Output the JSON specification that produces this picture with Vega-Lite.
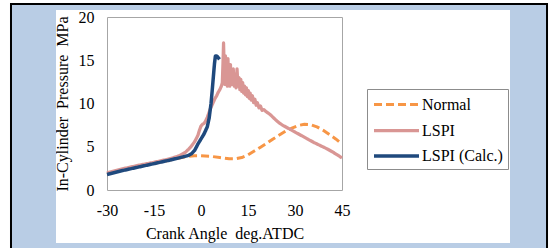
{
  "$schema": "https://vega.github.io/schema/vega-lite/v6.json",
  "width": 235,
  "height": 173,
  "autosize": {"type": "none"},
  "padding": {"left": 107, "top": 17, "right": 214, "bottom": 58},
  "background": "white",
  "config": {
    "view": {"stroke": "#a6a6a6", "strokeWidth": 1},
    "axisX": {"labelFont": "Liberation Serif", "titleFont": "Liberation Serif"},
    "axisY": {"labelFont": "Liberation Serif", "titleFont": "Liberation Serif"},
    "axis": {
      "labelFontSize": 16,
      "labelColor": "#000000",
      "titleFontSize": 16,
      "titleFontWeight": "normal",
      "titleColor": "#000000",
      "gridColor": "#adadad",
      "gridWidth": 1,
      "domain": false,
      "ticks": false
    },
    "legend": {
      "labelFont": "Liberation Serif",
      "labelFontSize": 16,
      "labelColor": "#000000"
    }
  },
  "datasets": {
    "frame": [{"k": "frame"}],
    "curves": [
      {"series": "Normal", "deg": -30, "p": 1.85},
      {"series": "Normal", "deg": -25, "p": 2.3},
      {"series": "Normal", "deg": -20, "p": 2.7},
      {"series": "Normal", "deg": -15, "p": 3.1},
      {"series": "Normal", "deg": -10, "p": 3.45},
      {"series": "Normal", "deg": -5, "p": 3.85},
      {"series": "Normal", "deg": -2, "p": 3.95},
      {"series": "Normal", "deg": 0, "p": 3.95},
      {"series": "Normal", "deg": 3, "p": 3.9},
      {"series": "Normal", "deg": 6, "p": 3.75},
      {"series": "Normal", "deg": 9, "p": 3.6},
      {"series": "Normal", "deg": 11, "p": 3.6},
      {"series": "Normal", "deg": 13, "p": 3.75},
      {"series": "Normal", "deg": 15, "p": 4.05},
      {"series": "Normal", "deg": 17, "p": 4.5},
      {"series": "Normal", "deg": 19, "p": 4.95},
      {"series": "Normal", "deg": 21, "p": 5.4},
      {"series": "Normal", "deg": 23, "p": 5.9},
      {"series": "Normal", "deg": 25, "p": 6.35},
      {"series": "Normal", "deg": 27, "p": 6.8},
      {"series": "Normal", "deg": 29, "p": 7.15},
      {"series": "Normal", "deg": 31, "p": 7.45},
      {"series": "Normal", "deg": 33, "p": 7.6},
      {"series": "Normal", "deg": 35, "p": 7.55},
      {"series": "Normal", "deg": 37, "p": 7.3},
      {"series": "Normal", "deg": 39, "p": 6.9},
      {"series": "Normal", "deg": 41, "p": 6.4},
      {"series": "Normal", "deg": 43, "p": 5.9},
      {"series": "Normal", "deg": 45, "p": 5.3},
      {"series": "LSPI", "deg": -30, "p": 2.0},
      {"series": "LSPI", "deg": -25, "p": 2.45},
      {"series": "LSPI", "deg": -20, "p": 2.85},
      {"series": "LSPI", "deg": -15, "p": 3.2},
      {"series": "LSPI", "deg": -10, "p": 3.6},
      {"series": "LSPI", "deg": -7, "p": 3.95},
      {"series": "LSPI", "deg": -5, "p": 4.35},
      {"series": "LSPI", "deg": -4, "p": 4.7},
      {"series": "LSPI", "deg": -3, "p": 5.1},
      {"series": "LSPI", "deg": -2, "p": 5.6},
      {"series": "LSPI", "deg": -1, "p": 6.3},
      {"series": "LSPI", "deg": -0.5, "p": 6.9},
      {"series": "LSPI", "deg": 0, "p": 7.4},
      {"series": "LSPI", "deg": 0.5, "p": 7.6},
      {"series": "LSPI", "deg": 1, "p": 7.7},
      {"series": "LSPI", "deg": 1.5, "p": 8.0},
      {"series": "LSPI", "deg": 2, "p": 8.4},
      {"series": "LSPI", "deg": 2.5, "p": 8.9},
      {"series": "LSPI", "deg": 3, "p": 9.4},
      {"series": "LSPI", "deg": 3.5, "p": 9.8},
      {"series": "LSPI", "deg": 4, "p": 10.2},
      {"series": "LSPI", "deg": 4.5, "p": 10.6},
      {"series": "LSPI", "deg": 5, "p": 10.9},
      {"series": "LSPI", "deg": 5.5, "p": 11.3},
      {"series": "LSPI", "deg": 6, "p": 11.6},
      {"series": "LSPI", "deg": 6.5, "p": 12.0},
      {"series": "LSPI", "deg": 6.8, "p": 12.4},
      {"series": "LSPI", "deg": 7.0, "p": 14.5},
      {"series": "LSPI", "deg": 7.2, "p": 17.0},
      {"series": "LSPI", "deg": 7.4, "p": 14.0},
      {"series": "LSPI", "deg": 7.6, "p": 12.2},
      {"series": "LSPI", "deg": 7.8, "p": 15.5},
      {"series": "LSPI", "deg": 8.0, "p": 12.5},
      {"series": "LSPI", "deg": 8.2, "p": 14.8},
      {"series": "LSPI", "deg": 8.4, "p": 12.0},
      {"series": "LSPI", "deg": 8.6, "p": 15.2},
      {"series": "LSPI", "deg": 8.8, "p": 12.8},
      {"series": "LSPI", "deg": 9.0, "p": 13.8},
      {"series": "LSPI", "deg": 9.2, "p": 12.0},
      {"series": "LSPI", "deg": 9.4, "p": 14.5},
      {"series": "LSPI", "deg": 9.6, "p": 12.4},
      {"series": "LSPI", "deg": 9.8, "p": 13.6},
      {"series": "LSPI", "deg": 10.0, "p": 12.2},
      {"series": "LSPI", "deg": 10.3, "p": 14.0},
      {"series": "LSPI", "deg": 10.6, "p": 12.0},
      {"series": "LSPI", "deg": 10.9, "p": 13.4},
      {"series": "LSPI", "deg": 11.2, "p": 11.8},
      {"series": "LSPI", "deg": 11.5, "p": 14.0},
      {"series": "LSPI", "deg": 11.8, "p": 12.0},
      {"series": "LSPI", "deg": 12.1, "p": 13.0},
      {"series": "LSPI", "deg": 12.4, "p": 11.6},
      {"series": "LSPI", "deg": 12.7, "p": 12.8},
      {"series": "LSPI", "deg": 13.0, "p": 11.4},
      {"series": "LSPI", "deg": 13.3, "p": 12.4},
      {"series": "LSPI", "deg": 13.6, "p": 11.2},
      {"series": "LSPI", "deg": 13.9, "p": 12.0},
      {"series": "LSPI", "deg": 14.2, "p": 11.0},
      {"series": "LSPI", "deg": 14.5, "p": 11.8},
      {"series": "LSPI", "deg": 14.8, "p": 10.8},
      {"series": "LSPI", "deg": 15.1, "p": 11.5},
      {"series": "LSPI", "deg": 15.4, "p": 10.6},
      {"series": "LSPI", "deg": 15.7, "p": 11.2},
      {"series": "LSPI", "deg": 16.0, "p": 10.4},
      {"series": "LSPI", "deg": 16.4, "p": 10.9},
      {"series": "LSPI", "deg": 16.8, "p": 10.1},
      {"series": "LSPI", "deg": 17.2, "p": 10.5},
      {"series": "LSPI", "deg": 17.6, "p": 9.8},
      {"series": "LSPI", "deg": 18.0, "p": 10.1},
      {"series": "LSPI", "deg": 18.5, "p": 9.5},
      {"series": "LSPI", "deg": 19.0, "p": 9.7},
      {"series": "LSPI", "deg": 19.5, "p": 9.2},
      {"series": "LSPI", "deg": 20.0, "p": 9.3},
      {"series": "LSPI", "deg": 21, "p": 9.0},
      {"series": "LSPI", "deg": 22, "p": 8.75},
      {"series": "LSPI", "deg": 23, "p": 8.4},
      {"series": "LSPI", "deg": 24, "p": 8.05},
      {"series": "LSPI", "deg": 25, "p": 7.75},
      {"series": "LSPI", "deg": 26, "p": 7.5},
      {"series": "LSPI", "deg": 28, "p": 7.1},
      {"series": "LSPI", "deg": 30, "p": 6.7},
      {"series": "LSPI", "deg": 32, "p": 6.3},
      {"series": "LSPI", "deg": 34, "p": 5.9},
      {"series": "LSPI", "deg": 36, "p": 5.5},
      {"series": "LSPI", "deg": 38, "p": 5.15},
      {"series": "LSPI", "deg": 40, "p": 4.8},
      {"series": "LSPI", "deg": 42, "p": 4.4},
      {"series": "LSPI", "deg": 44, "p": 3.95},
      {"series": "LSPI", "deg": 45, "p": 3.7},
      {"series": "LSPI (Calc.)", "deg": -30, "p": 1.8},
      {"series": "LSPI (Calc.)", "deg": -25, "p": 2.25},
      {"series": "LSPI (Calc.)", "deg": -20, "p": 2.65},
      {"series": "LSPI (Calc.)", "deg": -15, "p": 3.05},
      {"series": "LSPI (Calc.)", "deg": -10, "p": 3.45},
      {"series": "LSPI (Calc.)", "deg": -6, "p": 3.8},
      {"series": "LSPI (Calc.)", "deg": -4, "p": 4.0},
      {"series": "LSPI (Calc.)", "deg": -3, "p": 4.2},
      {"series": "LSPI (Calc.)", "deg": -2, "p": 4.6},
      {"series": "LSPI (Calc.)", "deg": -1, "p": 5.3},
      {"series": "LSPI (Calc.)", "deg": 0, "p": 5.9},
      {"series": "LSPI (Calc.)", "deg": 1, "p": 6.5},
      {"series": "LSPI (Calc.)", "deg": 2, "p": 7.3},
      {"series": "LSPI (Calc.)", "deg": 2.6, "p": 8.3},
      {"series": "LSPI (Calc.)", "deg": 3.2, "p": 10.0},
      {"series": "LSPI (Calc.)", "deg": 3.6, "p": 11.6},
      {"series": "LSPI (Calc.)", "deg": 3.95, "p": 13.1},
      {"series": "LSPI (Calc.)", "deg": 4.3, "p": 14.6},
      {"series": "LSPI (Calc.)", "deg": 4.6, "p": 15.5},
      {"series": "LSPI (Calc.)", "deg": 5.0, "p": 15.5},
      {"series": "LSPI (Calc.)", "deg": 5.5, "p": 15.3},
      {"series": "LSPI (Calc.)", "deg": 5.9, "p": 15.1}
    ]
  },
  "layer": [
    {
      "data": {"name": "frame"},
      "mark": {"type": "rect", "fill": "#b9cde5", "clip": false},
      "encoding": {
        "x": {"datum": -60.4, "type": "quantitative"},
        "x2": {"datum": -46.28},
        "y": {"datum": 21.5, "type": "quantitative"},
        "y2": {"datum": -8.4}
      }
    },
    {
      "data": {"name": "frame"},
      "mark": {"type": "rect", "fill": "#b9cde5", "clip": false},
      "encoding": {
        "x": {"datum": 98.62, "type": "quantitative"},
        "x2": {"datum": 110.2},
        "y": {"datum": 21.5, "type": "quantitative"},
        "y2": {"datum": -8.4}
      }
    },
    {
      "data": {"name": "frame"},
      "mark": {"type": "rect", "fill": "#b9cde5", "clip": false},
      "encoding": {
        "x": {"datum": -60.4, "type": "quantitative"},
        "x2": {"datum": 110.2},
        "y": {"datum": 21.5, "type": "quantitative"},
        "y2": {"datum": 20.81}
      }
    },
    {
      "data": {"name": "frame"},
      "mark": {"type": "rect", "fill": "#b9cde5", "clip": false},
      "encoding": {
        "x": {"datum": -60.4, "type": "quantitative"},
        "x2": {"datum": 110.2},
        "y": {"datum": -6.13, "type": "quantitative"},
        "y2": {"datum": -8.4}
      }
    },
    {
      "data": {"name": "frame"},
      "mark": {"type": "rect", "fill": null, "stroke": "#000000", "strokeWidth": 2, "clip": false},
      "encoding": {
        "x": {"datum": -60.64, "type": "quantitative"},
        "x2": {"datum": 110.43},
        "y": {"datum": 21.5, "type": "quantitative"},
        "y2": {"datum": -8.6}
      }
    },
    {
      "data": {"name": "curves"},
      "mark": {"type": "line", "strokeCap": "butt", "strokeJoin": "round"},
      "encoding": {
        "x": {
          "field": "deg", "type": "quantitative",
          "scale": {"domain": [-30, 45], "nice": false, "zero": false},
          "axis": {"values": [-30, -15, 0, 15, 30, 45], "labelExpr": "replace(datum.label, '\u2212', '-')", "title": "Crank Angle \u00a0deg.ATDC", "labelPadding": 12, "titlePadding": 7, "labelFlush": false}
        },
        "y": {
          "field": "p", "type": "quantitative",
          "scale": {"domain": [0, 20], "nice": false},
          "axis": {"values": [0, 5, 10, 15, 20], "title": "In-Cylinder \u00a0Pressure \u00a0MPa", "labelPadding": 13, "titlePadding": 8}
        },
        "color": {
          "field": "series", "type": "nominal",
          "scale": {"domain": ["Normal", "LSPI", "LSPI (Calc.)"], "range": ["#f79646", "#d99694", "#1f497d"]},
          "legend": {
            "title": null,
            "orient": "none",
            "legendX": 260,
            "legendY": 72,
            "fillColor": "#ffffff",
            "strokeColor": "#8c8c8c",
            "padding": 5,
            "symbolType": "M-1,0L4,0",
            "symbolSize": 324,
            "symbolStrokeWidth": 3,
            "labelOffset": 28,
            "rowPadding": 6.5
          }
        },
        "strokeDash": {
          "field": "series", "type": "nominal",
          "scale": {"domain": ["Normal", "LSPI", "LSPI (Calc.)"], "range": [[8, 4], [1, 0], [1, 0]]},
          "legend": null
        },
        "strokeWidth": {
          "field": "series", "type": "nominal",
          "scale": {"domain": ["Normal", "LSPI", "LSPI (Calc.)"], "range": [3, 3.5, 3]},
          "legend": null
        }
      }
    }
  ]
}
